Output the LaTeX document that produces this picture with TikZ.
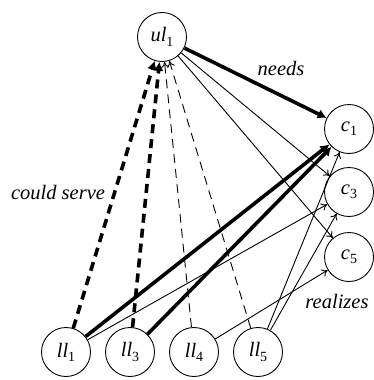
\documentclass[tikz,border=0pt]{standalone}
\usepackage{fontspec}
\newfontfamily\tms{Liberation Serif}
\usetikzlibrary{arrows.meta}
% upright subscript index for state names
\newcommand\ix[1]{\raisebox{-0.45ex}{\fontsize{14}{16}\selectfont\upshape #1}}
\begin{document}
\begin{tikzpicture}[x=1pt,y=-1pt,
  every node/.style={font=\tms\fontsize{20.5}{24}\selectfont\itshape},
  state/.style={circle,draw,line width=0.9pt,minimum size=49pt,inner sep=0pt},
  link/.style={line width=0.9pt,-{To[length=6pt,width=8pt]}},
  heavy/.style={line width=3.6pt,-{Latex[length=9pt,width=10pt]}},
  serve/.style={line width=3.6pt,dash pattern=on 9pt off 6pt,-{Latex[length=9pt,width=10pt]}},
  weakserve/.style={line width=0.9pt,dash pattern=on 9pt off 6pt,-{To[length=6pt,width=8pt]}},
  label/.style={inner sep=0pt}]
\useasboundingbox (0,0) rectangle (373,380);

% states
\node[state] (ul1) at (162,37) {ul\ix{1}};
\node[state] (c1) at (349,129) {c\ix{1}};
\node[state] (c3) at (349,192) {c\ix{3}};
\node[state] (c5) at (349,257) {c\ix{5}};
\node[state] (ll1) at (66,352) {ll\ix{1}};
\node[state] (ll3) at (130,352) {ll\ix{3}};
\node[state] (ll4) at (194,352) {ll\ix{4}};
\node[state] (ll5) at (258,352) {ll\ix{5}};

% upper level needs
\draw[heavy] (ul1) -- (c1);
\draw[link] (ul1) -- (c3);
\draw[link] (ul1) -- (c5);

% lower level could serve upper level
\draw[serve] (ll1) -- (ul1);
\draw[serve] (ll3) -- (ul1);
\draw[weakserve] (ll4) -- (ul1);
\draw[weakserve] (ll5) -- (ul1);

% lower level realizes
\draw[heavy] (ll1) -- (c1);
\draw[link] (ll1) -- (c3);
\draw[heavy] (ll3) -- (c1);
\draw[link] (ll4) -- (c5);
\draw[link] (ll5) -- (c1);
\draw[link] (ll5) -- (c3);

% edge labels
\node[label] (needs) at (281,68) {needs};
\node[label] (serves) at (58,193) {could serve};
\node[label] (realizes) at (337,301) {realizes};
\end{tikzpicture}
\end{document}
